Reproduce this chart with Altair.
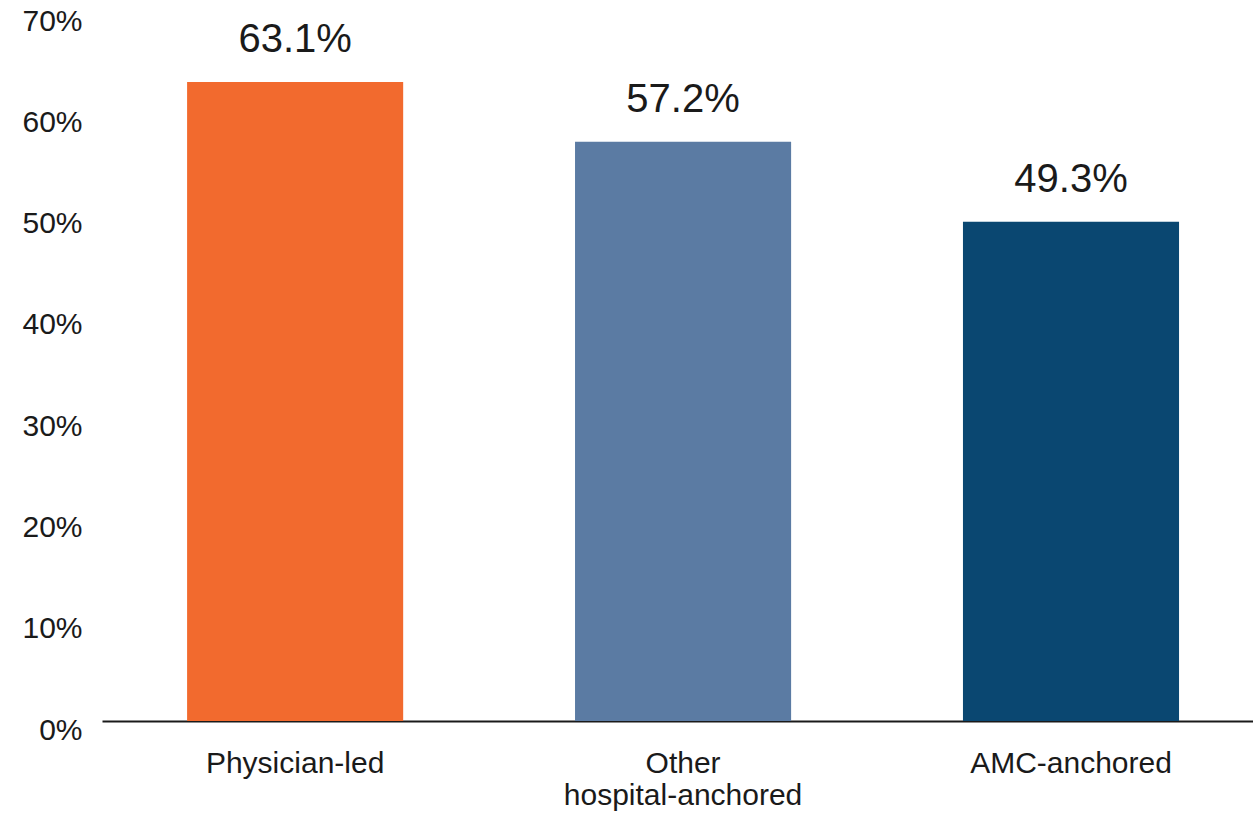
import altair as alt
import pandas as pd

categories = ["Physician-led", "Other|hospital-anchored", "AMC-anchored"]
values = [63.1, 57.2, 49.3]
colors = ["#F26A2E", "#5B7BA3", "#0A4771"]

df = pd.DataFrame({"cat": categories, "val": values, "color": colors,
                   "label": [f"{v:.1f}%" for v in values]})

FONT = "Liberation Sans"

x = alt.X("cat:N", sort=categories, title=None,
          scale=alt.Scale(paddingInner=0.443, paddingOuter=0.205, align=0.535),
          axis=alt.Axis(labelAngle=0, ticks=False, labelPadding=27, labelLimit=500,
                        labelFontSize=30, labelFont=FONT, labelColor="#1a1a1a",
                        labelExpr="split(datum.label, '|')", labelLineHeight=32,
                        domainColor="#1a1a1a", domainWidth=2, labelBaseline="top"))

y = alt.Y("val:Q", title=None,
          scale=alt.Scale(domain=[0, 70], nice=False),
          axis=alt.Axis(values=[0, 10, 20, 30, 40, 50, 60, 70], grid=False, domain=False,
                        ticks=False, labelPadding=20, labelFontSize=30, labelFont=FONT,
                        labelColor="#1a1a1a", labelExpr="datum.value + '%'",
                        labelBaseline="middle", labelOffset=9))

bars = alt.Chart(df).mark_bar().encode(
    x=x, y=y, color=alt.Color("color:N", scale=None)
)

text = alt.Chart(df).mark_text(baseline="alphabetic", dy=-30, fontSize=40,
                               font=FONT, color="#1a1a1a").encode(
    x=alt.X("cat:N", sort=categories), y="val:Q", text="label:N"
)

chart = (bars + text).properties(
    width=1151, height=709,
    autosize=alt.AutoSizeParams(type="none"),
    padding={"left": 102, "top": 12, "right": 0, "bottom": 90},
).configure_view(stroke=None)

chart.save("out.html", embed_options={"renderer": "svg", "actions": False})
